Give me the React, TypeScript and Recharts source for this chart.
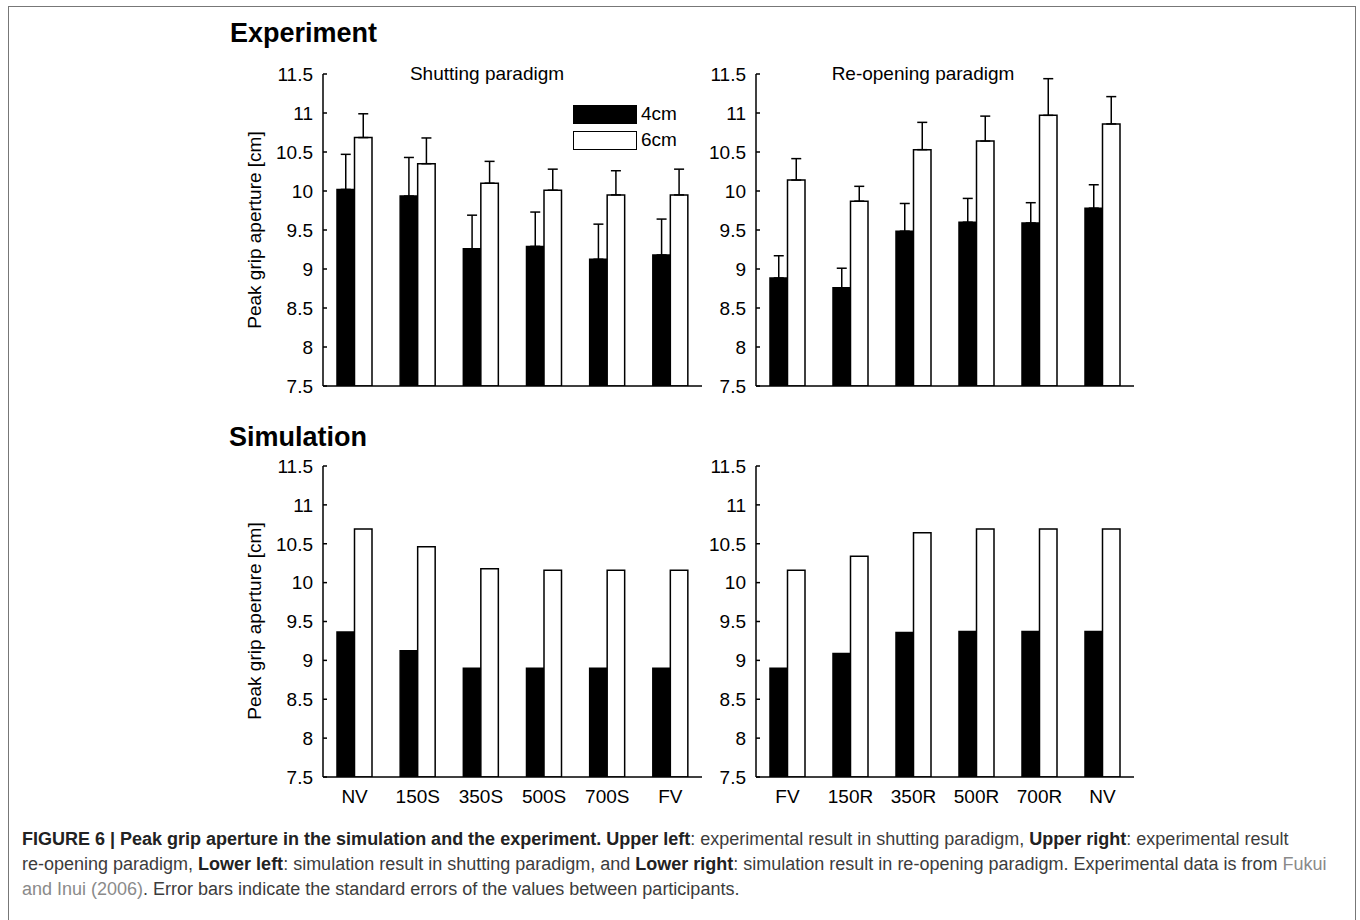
import React from 'react'
import { BarChart, Bar, XAxis, YAxis, ErrorBar } from 'recharts'

// shutting paradigm (experiment + simulation)
const shutLabels = ['NV', '150S', '350S', '500S', '700S', 'FV']
const shutExp4 = [10.02, 9.935, 9.26, 9.29, 9.125, 9.18]
const shutExp6 = [10.685, 10.35, 10.1, 10.01, 9.95, 9.95]
const shutSe4 = [0.45, 0.495, 0.43, 0.44, 0.45, 0.46]
const shutSe6 = [0.305, 0.33, 0.28, 0.27, 0.31, 0.33]
const shutSim4 = [9.365, 9.125, 8.9, 8.9, 8.9, 8.9]
const shutSim6 = [10.69, 10.46, 10.18, 10.16, 10.16, 10.16]

// re-opening paradigm
const reopenLabels = ['FV', '150R', '350R', '500R', '700R', 'NV']
const reopenExp4 = [8.885, 8.76, 9.485, 9.6, 9.59, 9.78]
const reopenExp6 = [10.14, 9.87, 10.53, 10.64, 10.97, 10.86]
const reopenSe4 = [0.285, 0.25, 0.355, 0.305, 0.26, 0.3]
const reopenSe6 = [0.275, 0.19, 0.35, 0.32, 0.47, 0.35]
const reopenSim4 = [8.9, 9.09, 9.36, 9.37, 9.37, 9.37]
const reopenSim6 = [10.16, 10.34, 10.64, 10.69, 10.69, 10.69]

const yTicks = [7.5, 8, 8.5, 9, 9.5, 10, 10.5, 11, 11.5]
const seriesNames = ['4cm', '6cm']

const FONT = '"Liberation Sans", Arial, Helvetica, sans-serif'

function buildRows(labels: string[], a: number[], b: number[], seA?: number[], seB?: number[]) {
    return labels.map((name, i) => ({
        name,
        a: a[i],
        b: b[i],
        aErr: seA ? [0, seA[i]] : undefined,
        bErr: seB ? [0, seB[i]] : undefined,
    }))
}

const YTick = (props: any) => {
    const { x, y, payload } = props
    return (
        <g>
            <text x={x} y={y} dy="0.36em" textAnchor="end" fontSize={19} fontFamily={FONT} fill="#000">
                {payload.value}
            </text>
            <line x1={x + 10} x2={x + 14} y1={y} y2={y} stroke="#000" strokeWidth={1.5} />
        </g>
    )
}

const XTick = (props: any) => {
    const { x, y, payload } = props
    return (
        <text x={x} y={y} dy={26} textAnchor="middle" fontSize={19} fontFamily={FONT} fill="#000">
            {payload.value}
        </text>
    )
}

interface PanelProps {
    plotX: number
    plotY: number
    plotW: number
    plotH: number
    rows: any[]
    showX?: boolean
    showErr?: boolean
}

function Panel({ plotX, plotY, plotW, plotH, rows, showX, showErr }: PanelProps) {
    const ml = 100
    const mt = 20
    return (
        <div style={{ position: 'absolute', left: plotX - ml, top: plotY - mt }}>
            <BarChart
                width={plotW + ml + 10}
                height={plotH + mt + 40}
                data={rows}
                margin={{ top: mt, right: 10, left: 0, bottom: 0 }}
                barGap={0}
                barSize={17.5}
            >
                <XAxis
                    dataKey="name"
                    height={40}
                    axisLine={{ stroke: '#000', strokeWidth: 1.5 }}
                    tickLine={false}
                    tickSize={0}
                    tickMargin={0}
                    tick={showX ? <XTick /> : false}
                    interval={0}
                />
                <YAxis
                    width={ml}
                    domain={[7.5, 11.5]}
                    ticks={yTicks}
                    allowDataOverflow
                    axisLine={{ stroke: '#000', strokeWidth: 1.5 }}
                    tickLine={false}
                    tickSize={10}
                    tickMargin={0}
                    tick={<YTick />}
                    interval={0}
                />
                <Bar dataKey="a" name={seriesNames[0]} fill="#000" stroke="#000" strokeWidth={1.5} isAnimationActive={false}>
                    {showErr && <ErrorBar dataKey="aErr" width={5} stroke="#000" strokeWidth={1.5} />}
                </Bar>
                <Bar dataKey="b" name={seriesNames[1]} fill="#fff" stroke="#000" strokeWidth={1.5} isAnimationActive={false}>
                    {showErr && <ErrorBar dataKey="bErr" width={5} stroke="#000" strokeWidth={1.5} />}
                </Bar>
            </BarChart>
        </div>
    )
}

const abs = (left: number, top: number, extra: React.CSSProperties = {}): React.CSSProperties => ({
    position: 'absolute',
    left,
    top,
    ...extra,
})

export default function App() {
    const ylabel = 'Peak grip aperture [cm]'
    return (
        <div style={{ position: 'absolute', left: 0, top: 0, width: 1360, height: 920, background: '#fff', fontFamily: FONT, overflow: 'hidden' }}>
            <div style={abs(8, 6, { width: 1346, height: 940, border: '1.5px solid #777' })} />

            <div style={abs(230, 20, { fontSize: 27, fontWeight: 'bold', lineHeight: '27px' })}>Experiment</div>
            <div style={abs(229, 424, { fontSize: 27, fontWeight: 'bold', lineHeight: '27px' })}>Simulation</div>

            <div style={abs(337, 63, { width: 300, textAlign: 'center', fontSize: 19, lineHeight: '22px' })}>Shutting paradigm</div>
            <div style={abs(773, 63, { width: 300, textAlign: 'center', fontSize: 19, lineHeight: '22px' })}>Re-opening paradigm</div>

            <div style={abs(105, 219, { width: 300, textAlign: 'center', fontSize: 19, lineHeight: '22px', transform: 'rotate(-90deg)' })}>{ylabel}</div>
            <div style={abs(105, 610, { width: 300, textAlign: 'center', fontSize: 19, lineHeight: '22px', transform: 'rotate(-90deg)' })}>{ylabel}</div>

            <Panel plotX={323} plotY={74} plotW={379} plotH={312} rows={buildRows(shutLabels, shutExp4, shutExp6, shutSe4, shutSe6)} showErr />
            <Panel plotX={756} plotY={74} plotW={378} plotH={312} rows={buildRows(reopenLabels, reopenExp4, reopenExp6, reopenSe4, reopenSe6)} showErr />
            <Panel plotX={323} plotY={466} plotW={379} plotH={311} rows={buildRows(shutLabels, shutSim4, shutSim6)} showX />
            <Panel plotX={756} plotY={466} plotW={378} plotH={311} rows={buildRows(reopenLabels, reopenSim4, reopenSim6)} showX />

            {/* legend */}
            <div style={abs(573, 101, { fontSize: 19 })}>
                {seriesNames.map((n, i) => (
                    <div key={n} style={{ display: 'flex', alignItems: 'center', height: 26 }}>
                        <div style={{ width: 62, height: 17, background: i === 0 ? '#000' : '#fff', border: '1.5px solid #000' }} />
                        <span style={{ marginLeft: 4 }}>{n}</span>
                    </div>
                ))}
            </div>

            <div style={abs(22, 827, { fontSize: 18, lineHeight: '25px', color: '#3c3c3c', whiteSpace: 'nowrap' })}>
                <b style={{ color: '#222' }}>FIGURE 6 | Peak grip aperture in the simulation and the experiment. Upper left</b>: experimental result in shutting paradigm, <b style={{ color: '#222' }}>Upper right</b>: experimental result
                <br />
                re-opening paradigm, <b style={{ color: '#222' }}>Lower left</b>: simulation result in shutting paradigm, and <b style={{ color: '#222' }}>Lower right</b>: simulation result in re-opening paradigm. Experimental data is from <span style={{ color: '#8a8a8a' }}>Fukui</span>
                <br />
                <span style={{ color: '#8a8a8a' }}>and Inui (2006)</span>. Error bars indicate the standard errors of the values between participants.
            </div>
        </div>
    )
}
